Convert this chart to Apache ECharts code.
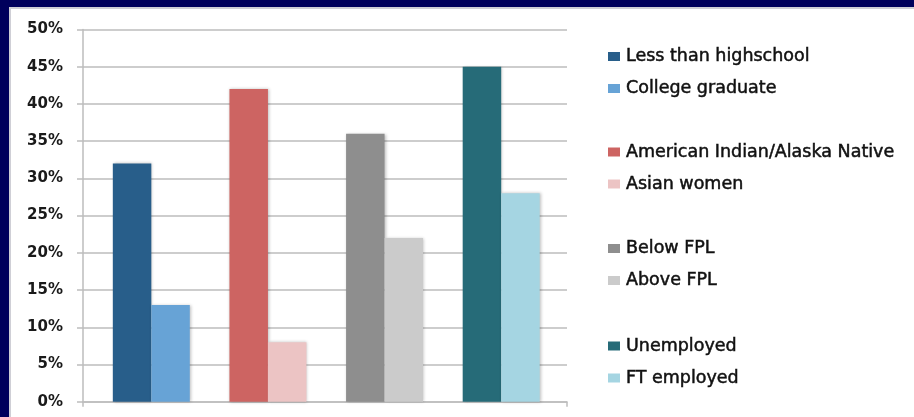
<!DOCTYPE html>
<html>
<head>
<meta charset="utf-8">
<script src="https://cdn.jsdelivr.net/npm/echarts@6/dist/echarts.min.js"></script>
<style>
  html, body { margin: 0; padding: 0; background: #00005c; overflow: hidden; }
  #panel {
    position: absolute; left: 9px; top: 7px; width: 910px; height: 415px;
    background: #ffffff; border: 2px solid #cfcfd6; box-sizing: border-box;
  }
  #chart { position: absolute; left: 0; top: 0; width: 914px; height: 417px; }
</style>
</head>
<body>
<div id="panel"></div>
<div id="chart"></div>
<script>
// Four comparison groups, each a pair of population shares (%)
const groups = ['Education', 'Race', 'Income', 'Employment'];
const firstNames  = ['Less than highschool', 'American Indian/Alaska Native', 'Below FPL', 'Unemployed'];
const secondNames = ['College graduate', 'Asian women', 'Above FPL', 'FT employed'];
const firstValues  = [32, 42, 36, 45];
const secondValues = [13, 8, 22, 28];
const firstColors  = ['#285e8a', '#cd6462', '#8e8e8e', '#266b78'];
const secondColors = ['#67a3d6', '#ecc4c4', '#cbcbcb', '#a5d5e2'];
const yTicks = [0, 5, 10, 15, 20, 25, 30, 35, 40, 45, 50];

const axisGray = '#bdbdbd';

// One series per legend entry; each only has a value in its own group
function onlyAt(idx, v) {
  return groups.map((g, i) => (i === idx ? v : '-'));
}

const series = [];
const legendTops = [45.5, 141, 237.5, 335];
const legends = [];
groups.forEach((g, i) => {
  series.push({
    name: firstNames[i], type: 'bar', stack: 'left',
    xAxisIndex: 1, yAxisIndex: 1,
    data: onlyAt(i, firstValues[i]),
    barCategoryGap: '34%', barGap: '0%',
    itemStyle: { color: firstColors[i], shadowBlur: 3, shadowColor: 'rgba(0,0,0,0.25)', shadowOffsetX: 1 },
    emphasis: { disabled: true }
  });
  series.push({
    name: secondNames[i], type: 'bar', stack: 'right',
    xAxisIndex: 1, yAxisIndex: 1,
    data: onlyAt(i, secondValues[i]),
    barCategoryGap: '34%', barGap: '0%',
    itemStyle: { color: secondColors[i], shadowBlur: 3, shadowColor: 'rgba(0,0,0,0.25)', shadowOffsetX: 1 },
    emphasis: { disabled: true }
  });
  legends.push({
    data: [firstNames[i], secondNames[i]],
    orient: 'vertical', left: 608, top: legendTops[i], padding: 0,
    itemWidth: 12, itemHeight: 9, itemGap: 10, icon: 'rect',
    selectedMode: false,
    textStyle: {
      fontFamily: 'DejaVu Sans', fontSize: 17.5, color: '#111', lineHeight: 20,
      padding: [2, 0, 0, 1], textBorderColor: '#111', textBorderWidth: 0.5
    }
  });
});

const chart = echarts.init(document.getElementById('chart'), null, { renderer: 'canvas' });
chart.setOption({
  animation: false,
  backgroundColor: 'transparent',
  grid: [
    { left: 83, right: 347, top: 29.5, bottom: 15.3 },
    { left: 93, right: 354.5, top: 29.5, bottom: 15.3 }
  ],
  legend: legends,
  xAxis: [
    {
      gridIndex: 0, type: 'category', data: [''], boundaryGap: true,
      axisLine: { lineStyle: { color: axisGray, width: 1.5 } },
      axisTick: { show: true, length: 5, lineStyle: { color: axisGray, width: 1.5 } },
      axisLabel: { show: false }
    },
    {
      gridIndex: 1, type: 'category', data: groups,
      axisLine: { show: false }, axisTick: { show: false }, axisLabel: { show: false }
    }
  ],
  yAxis: [
    {
      gridIndex: 0, type: 'value', min: yTicks[0], max: yTicks[yTicks.length - 1], interval: 5,
      axisLine: { show: true, lineStyle: { color: axisGray, width: 1.5 } },
      axisTick: { show: true, length: 6, lineStyle: { color: axisGray, width: 1.5 } },
      splitLine: { lineStyle: { color: axisGray, width: 1.5 } },
      axisLabel: {
        margin: 20, formatter: '{value}%', padding: [4, 0, 0, 0],
        fontFamily: 'DejaVu Sans', fontWeight: 'bold', fontSize: 15, color: '#1a1a1a'
      }
    },
    {
      gridIndex: 1, type: 'value', min: 0, max: 50,
      axisLine: { show: false }, axisTick: { show: false }, axisLabel: { show: false },
      splitLine: { show: false }
    }
  ],
  series: series
});
</script>
</body>
</html>
